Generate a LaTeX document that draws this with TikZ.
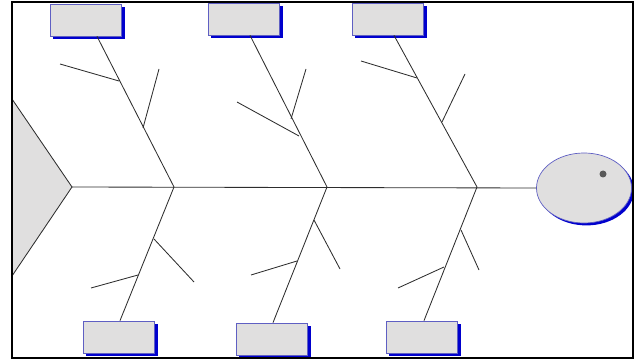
\documentclass[tikz,border=0pt]{standalone}
\usepackage{xcolor}
\usetikzlibrary{shapes.geometric}
\usetikzlibrary{shadows}
\definecolor{boxgray}{RGB}{224,223,223}
\definecolor{rimblue}{RGB}{95,95,195}
\definecolor{shadeblue}{RGB}{0,0,205}
\definecolor{bonegray}{RGB}{45,45,45}
\tikzset{
	bone/.style={draw=bonegray, line width=0.6pt},
	causebox/.style={draw=rimblue, fill=boxgray, line width=0.5pt, inner sep=0pt,
		minimum width=1.775cm, minimum height=0.8cm,
		general shadow={fill=shadeblue, shadow xshift=0.075cm, shadow yshift=-0.075cm}},
	fishhead/.style={ellipse, draw=rimblue, fill=boxgray, line width=0.5pt, inner sep=0pt,
		minimum width=2.375cm, minimum height=1.75cm,
		general shadow={fill=shadeblue, shadow xshift=0.06cm, shadow yshift=-0.06cm}}
}

\begin{document}
\begin{tikzpicture}[x=0.025cm, y=-0.025cm]
		\useasboundingbox (0,0) rectangle (638,360);
		% tail
		\fill[boxgray] (12,99) -- (72,187) -- (12,276) -- cycle;
		\draw[bone] (12,99) -- (72,187) -- (12,276);
		% head
		\node[fishhead] (head) at (584,188) {};
		\fill[black!65] (603,174) circle (3.5);
		% category boxes
		\node[causebox] (catA) at (86,20) {};
		\node[causebox] (catB) at (244,19) {};
		\node[causebox] (catC) at (388,19) {};
		\node[causebox] (catD) at (119,337) {};
		\node[causebox] (catE) at (272,339) {};
		\node[causebox] (catF) at (422,337) {};
		% spine
		\coordinate (tail) at (72,187);
		\coordinate (jA) at (174,187);
		\coordinate (jB) at (327,187);
		\coordinate (jC) at (477,187);
		\draw[bone] (tail) -- (head.west);
		% main bones
		\draw[bone] (catA.south -| 97,0) -- (jA);
		\draw[bone] (catB.south -| 250,0) -- (jB);
		\draw[bone] (catC.south -| 394,0) -- (jC);
		\draw[bone] (jA) -- (catD.north -| 120,0);
		\draw[bone] (jB) -- (catE.north -| 273,0);
		\draw[bone] (jC) -- (catF.north -| 424,0);
		% small bones
		\draw[bone] (119,81) -- (60,64);
		\draw[bone] (143,128) -- (159,69);
		\draw[bone] (299,136) -- (237,102);
		\draw[bone] (291,119) -- (306,69);
		\draw[bone] (417,78) -- (361,61);
		\draw[bone] (442,122) -- (465,74);
		\draw[bone] (154,239) -- (194,282);
		\draw[bone] (138,275) -- (91,288);
		\draw[bone] (314,220) -- (340,269);
		\draw[bone] (297,261) -- (251,275);
		\draw[bone] (461,230) -- (479,270);
		\draw[bone] (444,267) -- (398,288);
		% frame
		\draw[line width=1.4pt] (12,2) rectangle (633,358);
	\end{tikzpicture}
\end{document}
